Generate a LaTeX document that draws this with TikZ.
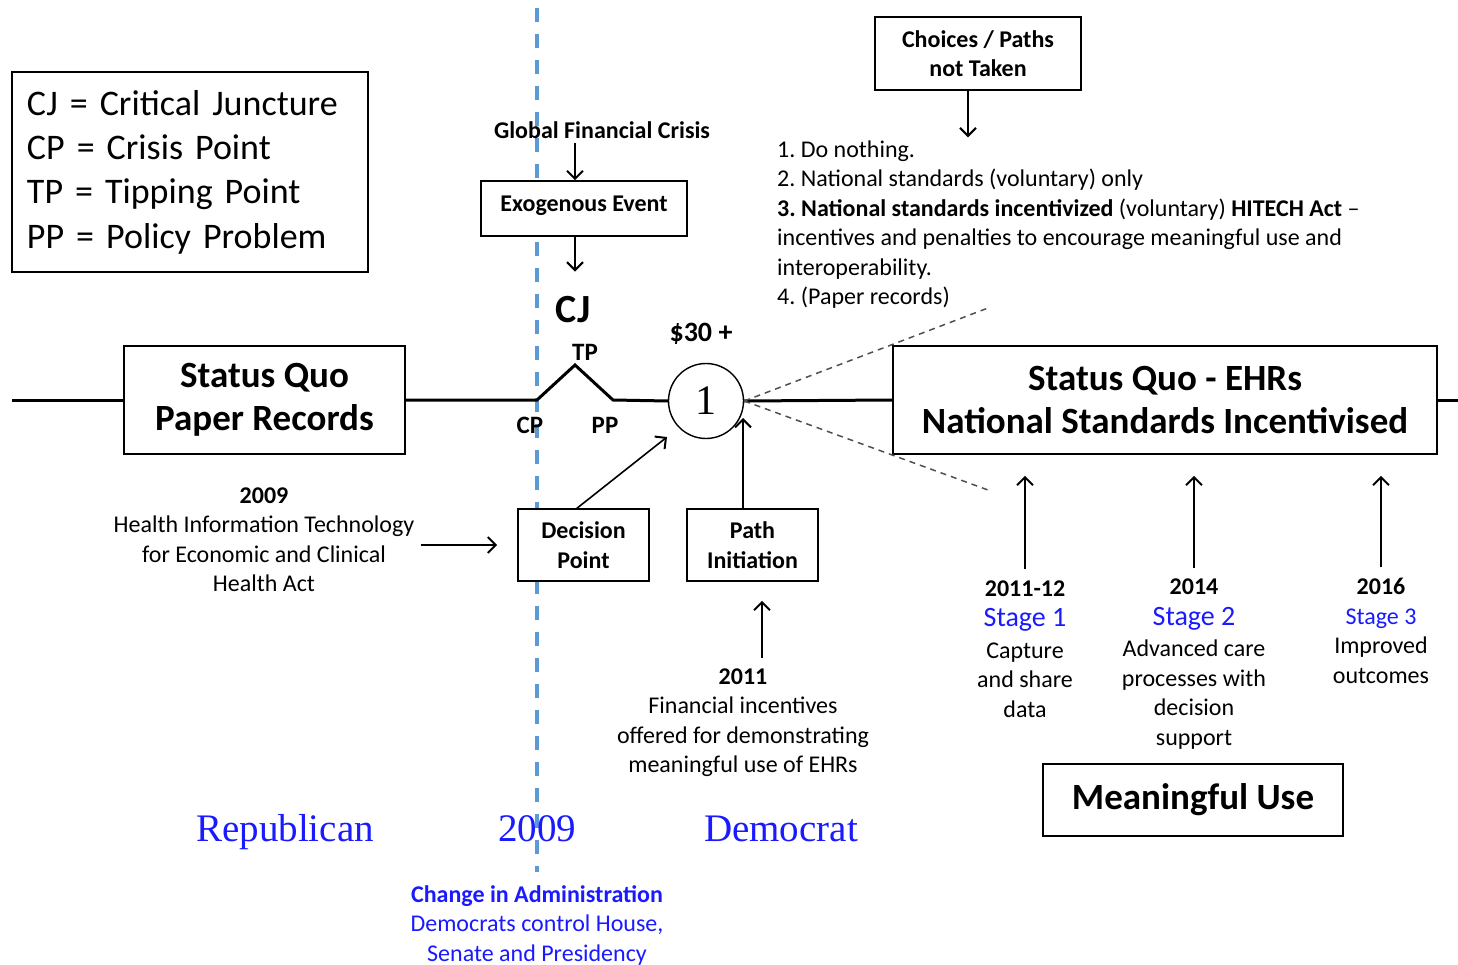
\documentclass[tikz,border=0pt]{standalone}
\usepackage{fontspec}
\setmainfont{Carlito}
\newfontfamily\serifface{Liberation Serif}
\usetikzlibrary{arrows.meta}
\definecolor{divider}{HTML}{5B9BD5}
\definecolor{partyblue}{HTML}{1A1AFF}
\definecolor{pathgrey}{HTML}{505050}
\frenchspacing
\begin{document}
\begin{tikzpicture}[x=1pt,y=-1pt,
  box/.style={draw, line width=1.6pt, fill=white, inner sep=0pt, align=center},
  txt/.style={font=\fontsize{24}{29.5}\selectfont, align=center, inner sep=0pt},
  bigbold/.style={font=\fontsize{37}{43}\selectfont\bfseries},
  midbold/.style={font=\fontsize{24}{29.5}\selectfont\bfseries},
  party/.style={font=\fontsize{39}{40}\selectfont\serifface, text=partyblue, inner sep=0pt, anchor=base},
  arr/.style={line width=1.6pt, -{Straight Barb[length=8pt,width=16pt,line width=2pt]}},
  mainline/.style={line width=3pt, line join=miter},
  altpath/.style={pathgrey, line width=1.5pt, dash pattern=on 6pt off 5pt},
  timebar/.style={divider, line width=3.2pt, dash pattern=on 14pt off 12pt}
]
\useasboundingbox (0,0) rectangle (1458,965);

% vertical divider between administrations
\coordinate (barTop) at (537,8);
\coordinate (barBot) at (537,872);
\draw[timebar] (barTop) -- (barBot);

% legend
\node[box, align=left, text width=326pt, inner xsep=15pt, minimum height=200pt,
      font=\fontsize{36}{44.3}\selectfont] (legend) at (190,172)
  {CJ = Critical Juncture\\CP = Crisis Point\\TP = Tipping Point\\PP = Policy Problem};

% main timeline states
\node[box, bigbold, minimum width=281pt, minimum height=108pt] (sqp) at (264.5,400)
  {Status Quo\\Paper Records};
\node[box, bigbold, minimum width=544pt, minimum height=108pt] (sqe) at (1165,400)
  {Status Quo - EHRs\\National Standards Incentivised};
\node[draw, circle, line width=1.4pt, fill=white, minimum size=75pt, inner sep=0pt,
      font=\fontsize{42}{42}\selectfont\serifface] (c1) at (706,401) {1};

% timeline line with the critical juncture kink
\coordinate (lineStart) at (12,400);
\coordinate (lineEnd) at (1458,400);
\coordinate (cpCorner) at (537,400);
\coordinate (tpPeak) at (575,365);
\coordinate (ppCorner) at (613,400);
\draw[mainline] (lineStart) -- (sqp.west);
\draw[mainline] (sqp.east) -- (cpCorner) -- (tpPeak) -- (ppCorner) -- (c1.west);
\draw[mainline] (c1.east) -- (sqe.west);
\draw[mainline] (sqe.east) -- (lineEnd);

% alternative paths fanning out from the juncture
\coordinate (altUp) at (988,308);
\coordinate (altDown) at (988,490);
\draw[altpath] (c1.east) -- (altUp);
\draw[altpath] (c1.east) -- (altDown);

% juncture labels
\node[inner sep=0pt, font=\fontsize{40}{40}\selectfont\bfseries] (cj) at (573,310) {CJ};
\node[inner sep=0pt, font=\fontsize{25}{25}\selectfont\bfseries] (tp) at (585,352) {TP};
\node[inner sep=0pt, font=\fontsize{25}{25}\selectfont\bfseries] (cp) at (530,425) {CP};
\node[inner sep=0pt, font=\fontsize{25}{25}\selectfont\bfseries] (pp) at (605,425) {PP};
\node[inner sep=0pt, font=\fontsize{28}{28}\selectfont\bfseries] (cost) at (701,334) {\$30 +};

% exogenous event
\coordinate (colExo) at (575,0);
\node[txt, midbold] (gfc) at (602,130) {Global Financial Crisis};
\node[box, midbold, minimum width=206pt, minimum height=55pt, text depth=9pt] (exo) at (584,208.5)
  {Exogenous Event};
\draw[arr] (gfc.south -| colExo) ++(0,4) -- (exo.north -| colExo);
\draw[arr, shorten >=25pt] (exo.south -| colExo) -- (cj.north -| colExo);

% paths not taken
\coordinate (colChoice) at (968,0);
\node[box, midbold, minimum width=206pt, minimum height=73pt] (choices) at (978,53.5)
  {Choices / Paths\\not Taken};
\node[txt, align=left, anchor=west] (opts) at (777,224.5)
  {1. Do nothing.\\
   2. National standards (voluntary) only\\
   \textbf{3. National standards incentivized} (voluntary) \textbf{HITECH Act} --\\
   incentives and penalties to encourage meaningful use and\\
   interoperability.\\
   4. (Paper records)};
\draw[arr, shorten >=3pt] (choices.south -| colChoice) -- (opts.north -| colChoice);

% decision point and path initiation
\node[box, midbold, minimum width=131pt, minimum height=72pt] (dp) at (583.5,545)
  {Decision\\Point};
\node[box, midbold, minimum width=131pt, minimum height=72pt] (pi) at (752.5,545)
  {Path\\Initiation};
\coordinate (dpTail) at (576,509);
\coordinate (dpTip) at (667,437);
\coordinate (piTail) at (743,509);
\coordinate (piTip) at (743,418);
\draw[arr] (dpTail) -- (dpTip);
\draw[arr] (piTail) -- (piTip);

\node[txt] (hitech) at (264,539.5)
  {\textbf{2009}\\Health Information Technology\\for Economic and Clinical\\Health Act};
\draw[arr, shorten <=6pt, shorten >=20pt] (hitech.east |- dp.west) -- (dp.west);

\node[txt] (incent) at (743,722.5)
  {\textbf{2011}\\Financial incentives\\offered for demonstrating\\meaningful use of EHRs};
\coordinate (colIncent) at (762,0);
\draw[arr, shorten <=10pt, shorten >=19pt] (incent.north -| colIncent) -- (pi.south -| colIncent);

% meaningful use stages
\node[txt] (st1) at (1025,649)
  {\textbf{2011-12}\\[1pt]{\fontsize{28}{32}\selectfont\color{partyblue}Stage 1}\\[2pt]Capture\\and share\\data};
\node[txt] (st2) at (1194,664)
  {\textbf{2014}\\[1pt]{\fontsize{28}{32}\selectfont\color{partyblue}Stage 2}\\[2pt]Advanced care\\processes with\\decision\\support};
\node[txt] (st3) at (1381,631)
  {\textbf{2016}\\{\color{partyblue}Stage 3}\\Improved\\outcomes};
\foreach \s in {st1,st2,st3}{
  \draw[arr, shorten <=11pt, shorten >=21pt] (\s.north) -- (sqe.south -| \s.north);
}
\node[box, bigbold, minimum width=300pt, minimum height=72pt] (mu) at (1193,800)
  {Meaningful Use};

% administrations
\node[party] (rep) at (285,841) {Republican};
\node[party] (yr) at (537,841) {2009};
\node[party] (dem) at (781,841) {Democrat};
\node[txt, text=partyblue] (admin) at (537,925)
  {\textbf{Change in Administration}\\Democrats control House,\\Senate and Presidency};
\end{tikzpicture}
\end{document}
